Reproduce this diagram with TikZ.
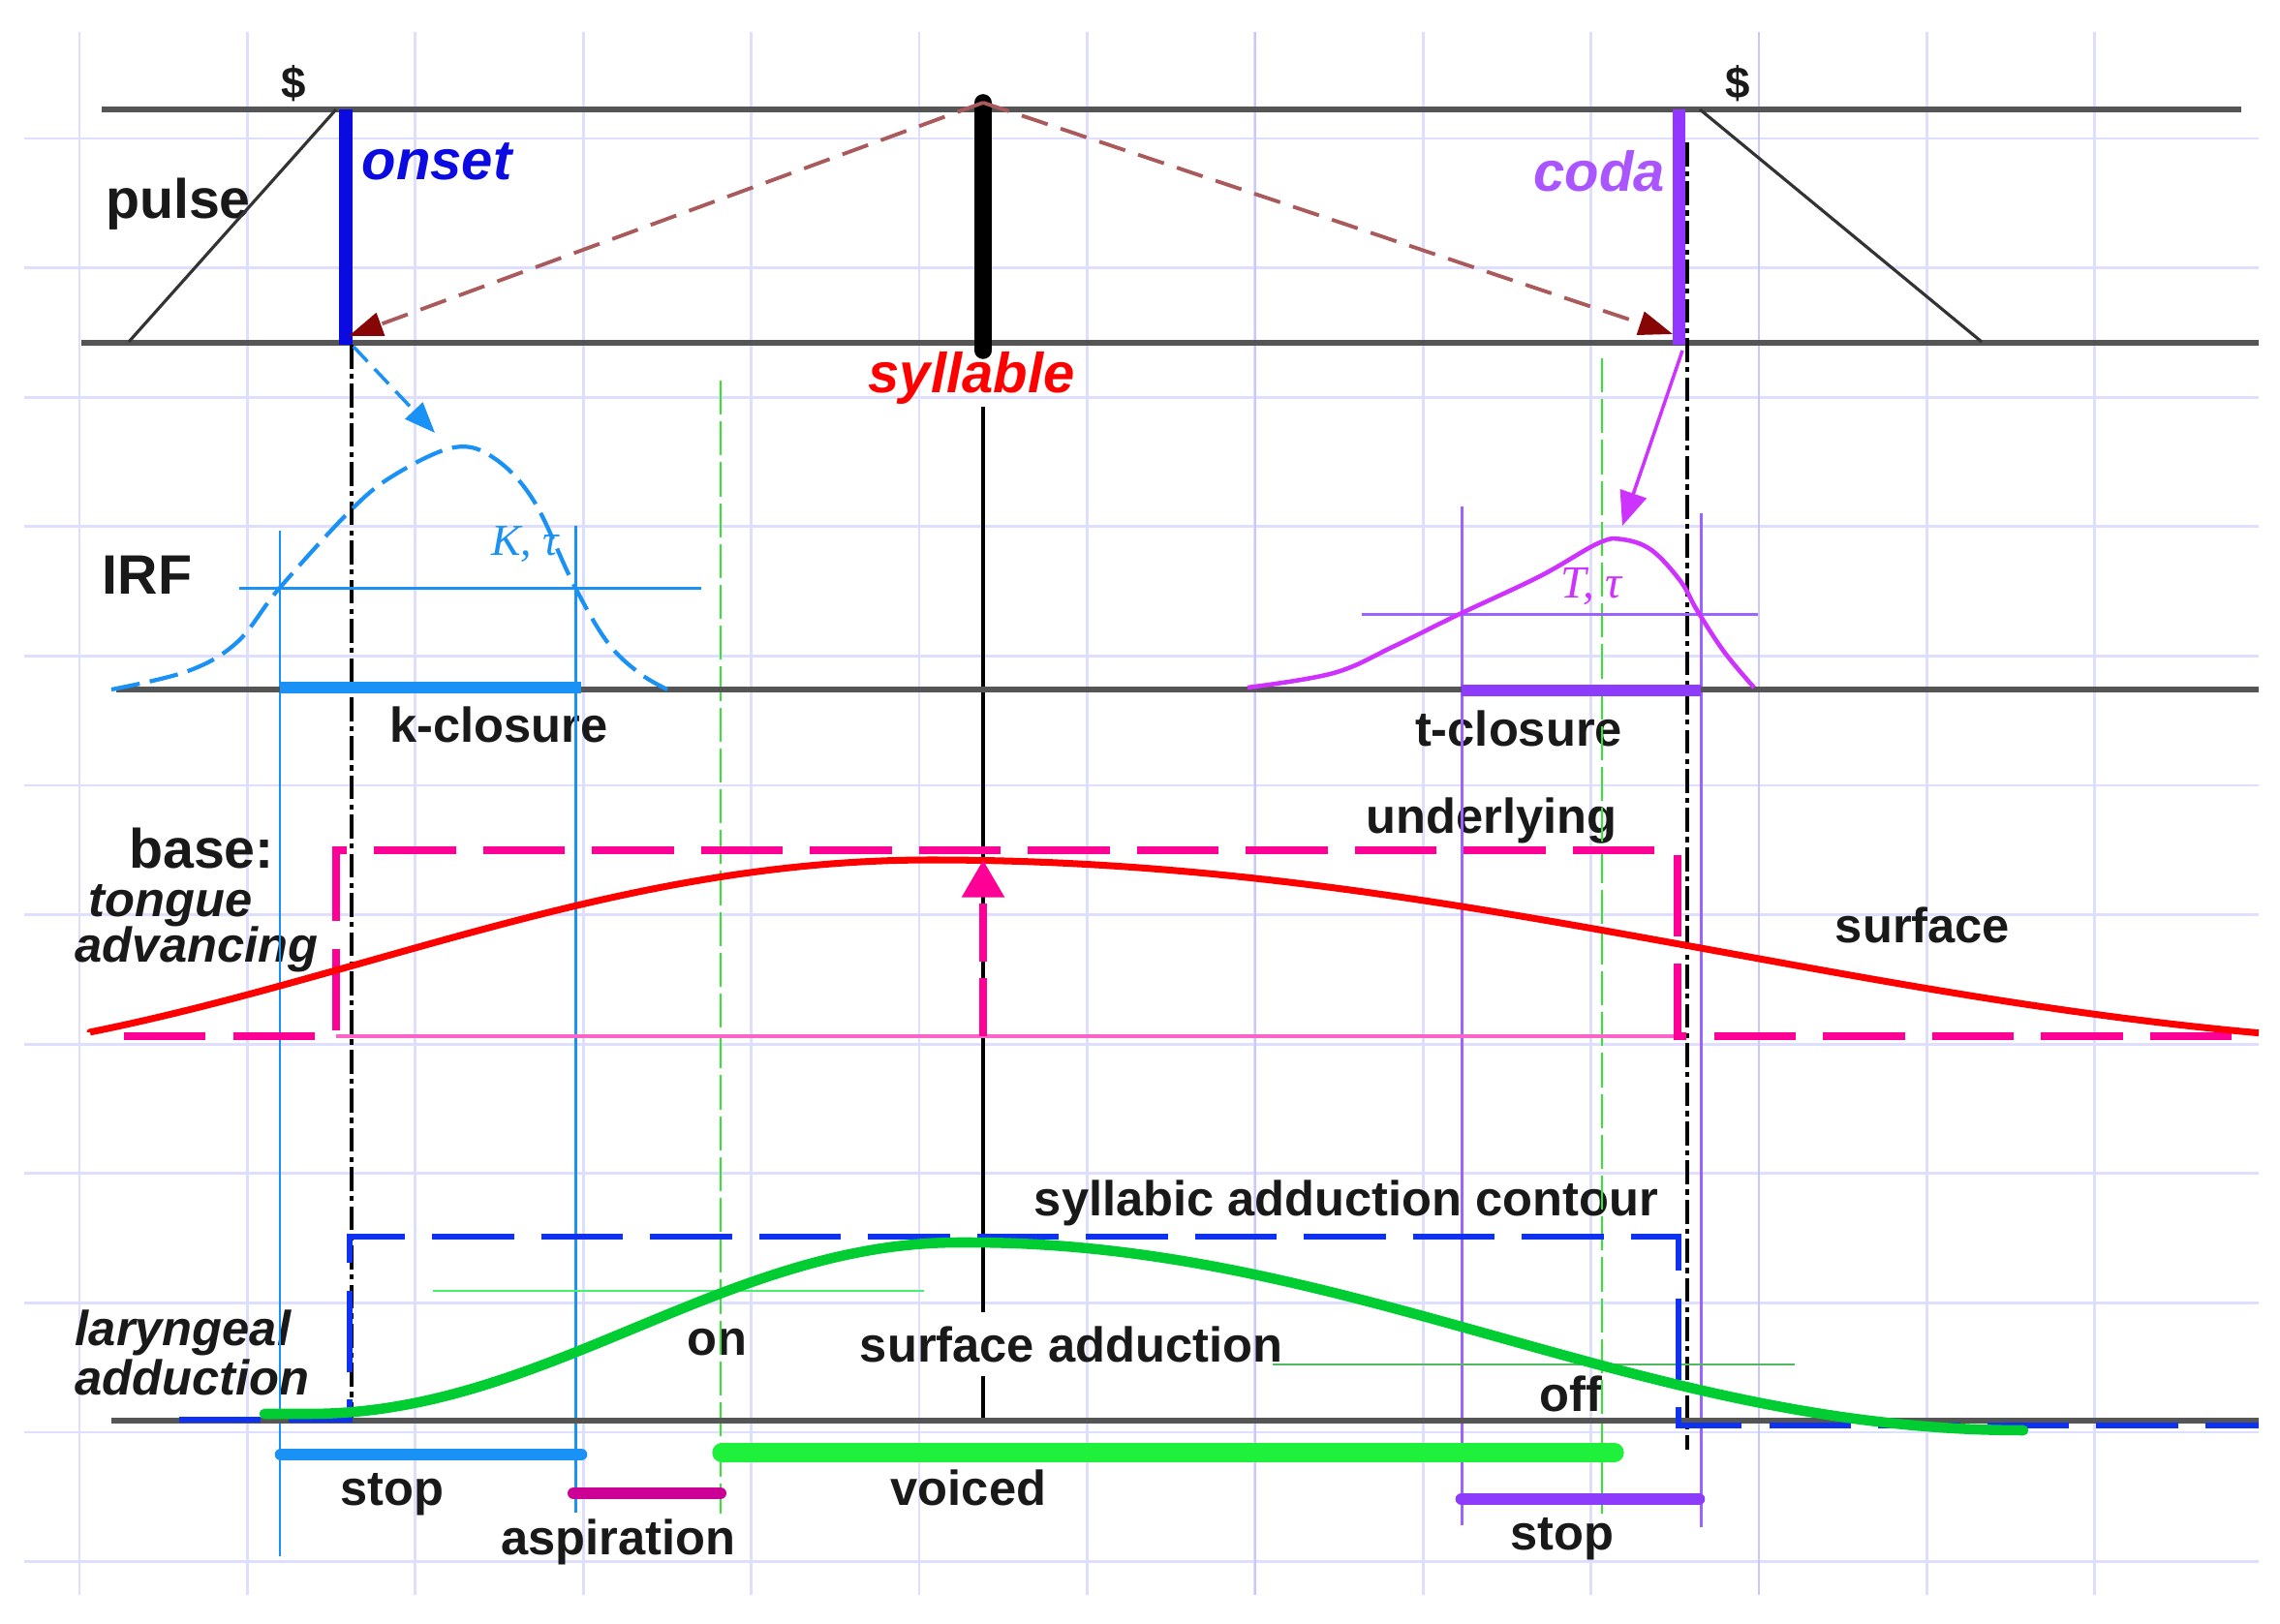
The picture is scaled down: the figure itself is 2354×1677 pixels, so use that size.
\documentclass[tikz,border=0pt]{standalone}
\usepackage{fontspec}
\setmainfont{Liberation Sans}
\newfontfamily\serifit{Liberation Serif}
\usetikzlibrary{arrows.meta}
\definecolor{gridc}{RGB}{222,222,255}
\definecolor{gridd}{RGB}{200,200,255}
\definecolor{axisgray}{RGB}{85,85,85}
\definecolor{onsetblue}{RGB}{10,10,225}
\definecolor{codaviolet}{RGB}{145,55,255}
\definecolor{codatext}{RGB}{170,85,255}
\definecolor{brownd}{RGB}{170,90,90}
\definecolor{headred}{RGB}{135,5,5}
\definecolor{irfblue}{RGB}{25,145,245}
\definecolor{irfviolet}{RGB}{205,50,255}
\definecolor{tviolet}{RGB}{155,100,255}
\definecolor{tbar}{RGB}{140,60,250}
\definecolor{pinkd}{RGB}{255,0,150}
\definecolor{pinkl}{RGB}{255,100,200}
\definecolor{redc}{RGB}{255,0,0}
\definecolor{contblue}{RGB}{15,50,240}
\definecolor{greenc}{RGB}{0,205,50}
\definecolor{greenbar}{RGB}{30,240,60}
\definecolor{greenthin}{RGB}{70,240,110}
\definecolor{greenthinb}{RGB}{80,185,95}
\definecolor{greendash}{RGB}{50,230,50}
\definecolor{aspmag}{RGB}{205,0,150}
\definecolor{txt}{RGB}{25,25,25}
\tikzset{
  gridline/.style={gridc, line width=0.8pt},
  gridstrong/.style={gridd, line width=0.8pt},
  axisline/.style={axisgray, line width=1.5pt},
  rampline/.style={black!80, line width=0.9pt},
  lbl/.style={text=txt, font=\fontsize{14.4}{16}\selectfont\bfseries, inner sep=1pt},
  ttl/.style={text=txt, font=\fontsize{16.3}{18}\selectfont\bfseries, inner sep=1pt},
  itlbl/.style={text=txt, font=\fontsize{14.4}{16}\selectfont\bfseries\itshape, inner sep=0pt},
  blackdd/.style={black, line width=1.3pt, dash pattern=on 7pt off 1.5pt on 1.5pt off 1.5pt},
  greendd/.style={greendash, line width=0.8pt, dash pattern=on 10pt off 2pt},
  longdash/.style={dash pattern=on 24pt off 8pt},
  barline/.style={line cap=round},
  thinv/.style={line width=0.85pt},
  centerthin/.style={black, line width=1.3pt},
  browndash/.style={brownd, line width=1.1pt, dash pattern=on 8pt off 4pt,
     -{Triangle[length=10pt,width=7pt,fill=headred,color=headred]}},
}
\begin{document}
\begin{tikzpicture}[x=0.01cm, y=-0.01cm]
\fill[white] (0,0) rectangle (2354,1677);
\useasboundingbox (0,0) rectangle (2354,1677);
% grid
\foreach \k in {0,...,11} { \draw[gridline] (25,{143+133.6*\k}) -- (2332,{143+133.6*\k}); }
\foreach \k in {0,...,12} { \draw[gridline] ({82+173.4*\k},33) -- ({82+173.4*\k},1647); }
\draw[gridstrong] (1296,33) -- (1296,1647);
\draw[gridstrong] (1816,33) -- (1816,1647);

% ---------- coordinates ----------
\coordinate (ptl) at (105,113); \coordinate (ptr) at (2314,113);
\coordinate (pbl) at (84,354);  \coordinate (pbr) at (2332,354);
\coordinate (rampLb) at (133,353); \coordinate (rampLt) at (347,113);
\coordinate (rampRt) at (1755,113); \coordinate (rampRb) at (2046,353);
\coordinate (onT) at (357,113); \coordinate (onB) at (357,356);
\coordinate (syT) at (1015,106); \coordinate (syB) at (1015,362);
\coordinate (coT) at (1733,113); \coordinate (coB) at (1733,356);
\coordinate (onTip) at (360,347); \coordinate (coTip) at (1727,345);
\coordinate (ddLt) at (363,356); \coordinate (ddLb) at (363,1466);
\coordinate (ddRt) at (1742,147); \coordinate (ddRb) at (1742,1497);
\coordinate (gLt) at (744,393); \coordinate (gLb) at (744,1563);
\coordinate (gRt) at (1654,370); \coordinate (gRb) at (1654,1563);
\coordinate (irfL) at (120,712); \coordinate (irfR) at (2332,712);
\coordinate (kvLt) at (289,548); \coordinate (kvLb) at (289,1607);
\coordinate (kvRt) at (594,543); \coordinate (kvRb) at (594,1562);
\coordinate (khL) at (247,608); \coordinate (khR) at (724,608);
\coordinate (kbL) at (289,710); \coordinate (kbR) at (600,710);
\coordinate (tvLt) at (1509,523); \coordinate (tvLb) at (1509,1575);
\coordinate (tvRt) at (1756,530); \coordinate (tvRb) at (1756,1577);
\coordinate (thL) at (1406,635); \coordinate (thR) at (1815,635);
\coordinate (tbL) at (1509,713); \coordinate (tbR) at (1756,713);
\coordinate (barrS) at (365,358); \coordinate (barrE) at (449,447);
\coordinate (parrS) at (1737,362); \coordinate (parrE) at (1675,543);
\coordinate (uBs) at (128,1070); \coordinate (uBL) at (347,1070);
\coordinate (uTL) at (347,878); \coordinate (uTR) at (1732,878);
\coordinate (uBR) at (1732,1070); \coordinate (uBe) at (2332,1070);
\coordinate (pkS) at (1015,1070); \coordinate (pkE) at (1015,888);
\coordinate (cBs) at (185,1466); \coordinate (cBL) at (361,1466);
\coordinate (cTL) at (361,1277); \coordinate (cTR) at (1733,1277);
\coordinate (cBR) at (1733,1472); \coordinate (cBe) at (2332,1472);
\coordinate (blL) at (115,1467); \coordinate (blR) at (2332,1467);
\coordinate (cb) at (1015,1467);
\coordinate (ghLa) at (447,1333); \coordinate (ghLb) at (954,1333);
\coordinate (ghRa) at (1314,1409); \coordinate (ghRb) at (1853,1409);
\coordinate (stL) at (290,1502); \coordinate (stR) at (600,1502);
\coordinate (asL) at (592,1542); \coordinate (asR) at (744,1542);
\coordinate (voL) at (745,1500); \coordinate (voR) at (1667,1500);
\coordinate (sRL) at (1509,1548); \coordinate (sRR) at (1754,1548);
\coordinate (grS) at (273,1460);
\coordinate (rdS) at (93,1066);

% ---------- text nodes ----------
\node[lbl, font=\fontsize{13}{15}\selectfont\bfseries] (dolL) at (303,86) {\$};
\node[lbl, font=\fontsize{13}{15}\selectfont\bfseries] (dolR) at (1794,86) {\$};
\node[ttl] (pulse) at (184,211) {pulse};
\node[ttl, text=onsetblue, font=\fontsize{16.5}{18}\selectfont\bfseries\itshape] (onset) at (451,167) {onset};
\node[ttl, text=codatext, font=\fontsize{16.5}{18}\selectfont\bfseries\itshape] (coda) at (1651,177) {coda};
\node[ttl, text=redc, font=\fontsize{16.5}{18}\selectfont\bfseries\itshape, inner sep=0.5pt] (syl) at (1003,391) {syllable};
\node[ttl] (irf) at (152,594) {IRF};
\node[text=irfblue, font=\fontsize{13}{15}\selectfont\serifit\itshape, inner sep=0pt] (ktau) at (542,562) {K, τ};
\node[text=irfviolet, font=\fontsize{13.5}{15}\selectfont\serifit\itshape, inner sep=0pt] (ttau) at (1643,606) {T, τ};
\node[lbl] (kclos) at (515,748) {k-closure};
\node[lbl] (tclos) at (1568,752) {t-closure};
\node[ttl] (base) at (208,876) {base:};
\node[itlbl] (tongue) at (176,935) {tongue};
\node[itlbl] (advancing) at (203,980) {advancing};
\node[lbl] (under) at (1540,848) {underlying};
\node[lbl] (surf) at (1985,955) {surface};
\node[lbl] (sac) at (1390,1242) {syllabic adduction contour};
\node[itlbl] (laryn) at (189,1376) {laryngeal};
\node[itlbl] (adduc) at (198,1422) {adduction};
\node[lbl] (on) at (740,1386) {on};
\node[lbl, inner sep=4pt] (sad) at (1106,1388) {surface adduction};
\node[lbl] (off) at (1622,1439) {off};
\node[lbl] (stop1) at (405,1543) {stop};
\node[lbl] (asp) at (638,1592) {aspiration};
\node[lbl] (voiced) at (1000,1536) {voiced};
\node[lbl] (stop2) at (1613,1589) {stop};

% ---------- pulse tier ----------
\draw[axisline] (ptl) -- (ptr);
\draw[axisline] (pbl) -- (pbr);
\draw[rampline] (rampLb) -- (rampLt);
\draw[rampline] (rampRt) -- (rampRb);
\draw[onsetblue, line width=3.7pt] (onT) -- (onB);
\draw[codaviolet, line width=3.7pt] (coT) -- (coB);
\draw[black, line width=5pt, line cap=round] (syT) -- (syB);
\draw[centerthin] (syB) -- (syl.north -| syB);
\draw[centerthin] (syl.south -| syB) -- (sad.north -| syB);
\draw[centerthin] (sad.south -| syB) -- (cb);
\draw[browndash] (syT) -- (onTip);
\draw[browndash] (syT) -- (coTip);

% ---------- vertical markers ----------
\draw[blackdd] (ddLt) -- (ddLb);
\draw[blackdd] (ddRt) -- (ddRb);
\draw[greendd] (gLt) -- (gLb);
\draw[greendd] (gRt) -- (gRb);
\draw[irfblue, thinv] (kvLt) -- (kvLb);
\draw[irfblue, thinv] (kvRt) -- (kvRb);
\draw[tviolet, thinv] (tvLt) -- (tvLb);
\draw[tviolet, thinv] (tvRt) -- (tvRb);

% ---------- IRF tier ----------
\draw[axisline] (irfL) -- (irfR);
\draw[irfblue, thinv] (khL) -- (khR);
\draw[tviolet, thinv] (thL) -- (thR);
\draw[irfblue, line width=1.2pt, dash pattern=on 8.5pt off 3pt]
  plot[smooth, tension=0.6] coordinates {(115,712) (194,693) (245,663) (288,608) (362,527) (408,490) (469,462) (510,473) (551,517) (592,603) (627,663) (660,695) (689,712)};
\draw[irfviolet, line width=1.3pt]
  plot[smooth, tension=0.6] coordinates {(1288,710) (1377,695) (1440,667) (1505,635) (1590,595) (1650,561) (1675,557) (1705,568) (1735,600) (1752,630) (1780,673) (1811,710)};
\draw[irfblue, line width=3.4pt] (kbL) -- (kbR);
\draw[tbar, line width=3.4pt] (tbL) -- (tbR);
\draw[irfblue, line width=1pt, dash pattern=on 6pt off 3pt,
  -{Triangle[length=9pt,width=7pt]}] (barrS) -- (barrE);
\draw[irfviolet, line width=1pt, -{Triangle[length=10pt,width=8pt]}] (parrS) -- (parrE);

% ---------- base tier ----------
\draw[pinkl, line width=0.9pt] (uBL) -- (uBR);
\draw[pinkd, line width=2.4pt, longdash] (uBs) -- (uBL) -- (uTL) -- (uTR) -- (uBR) -- (uBe);
\draw[redc, line width=2pt, line join=round] (rdS)
  -- plot[domain=93:961, samples=60] (\x, {888+104.5*(1+cos((\x+200)*0.155039))})
  -- plot[domain=961:2332, samples=80] (\x, {888+95.5*(1-cos((\x-961)*0.109823))});
\draw[pinkd, line width=2.4pt, dash pattern=on 17pt off 5pt,
  -{Triangle[length=11pt,width=12pt]}] (pkS) -- (pkE);

% ---------- laryngeal tier ----------
\draw[axisline] (blL) -- (blR);
\draw[greenthin, thinv] (ghLa) -- (ghLb);
\draw[greenthinb, thinv] (ghRa) -- (ghRb);
\draw[contblue, line width=1.9pt, longdash] (cBs) -- (cBL) -- (cTL) -- (cTR) -- (cBR) -- (cBe);
\draw[greenc, line width=3pt, line cap=round, line join=round] (grS)
  -- plot[domain=320:990, samples=60] (\x, {1371.5+88.5*cos((\x-320)*0.268657)})
  -- plot[domain=1000:2089, samples=80] (\x, {1380-97*cos((\x-1000)*0.165289)});

% ---------- bottom bars ----------
\draw[irfblue, line width=3.6pt, barline] (stL) -- (stR);
\draw[aspmag, line width=3.4pt, barline] (asL) -- (asR);
\draw[greenbar, line width=5.5pt, barline] (voL) -- (voR);
\draw[tbar, line width=3.6pt, barline] (sRL) -- (sRR);
\end{tikzpicture}
\end{document}
